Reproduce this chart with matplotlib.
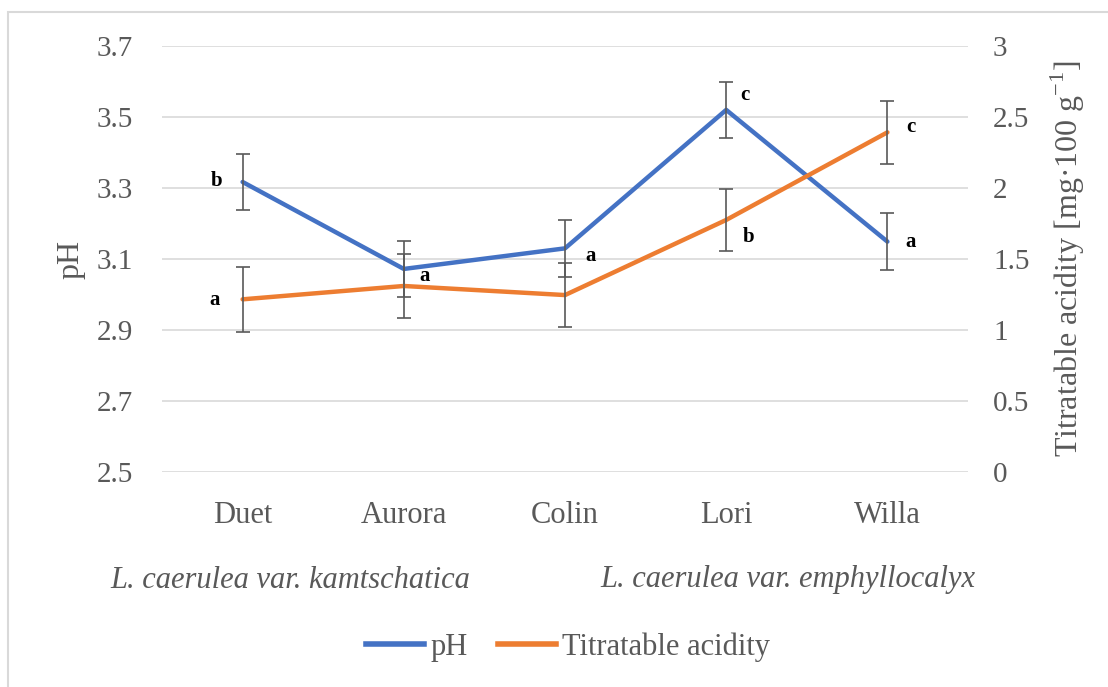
import matplotlib
matplotlib.use('Agg')
import matplotlib.pyplot as plt
from matplotlib.patches import Rectangle
from matplotlib.lines import Line2D

plt.rcParams['font.family'] = ['Liberation Serif', 'DejaVu Serif']
plt.rcParams['mathtext.fontset'] = 'custom'
plt.rcParams['mathtext.rm'] = 'Liberation Serif'

# データ
cultivars = ['Duet', 'Aurora', 'Colin', 'Lori', 'Willa']
ph = [3.317, 3.072, 3.130, 3.520, 3.149]
ph_err = [0.08, 0.08, 0.08, 0.08, 0.08]
ta = [1.216, 1.310, 1.246, 1.775, 2.392]
ta_err = [0.227, 0.227, 0.225, 0.22, 0.223]
ph_letters = ['b', 'a', 'a', 'c', 'a']
ta_letters = ['a', '', '', 'b', 'c']
groups = ['L. caerulea var. kamtschatica', 'L. caerulea var. emphyllocalyx']

ph_ticks = [2.5, 2.7, 2.9, 3.1, 3.3, 3.5, 3.7]
ta_ticks = [0, 0.5, 1, 1.5, 2, 2.5, 3]

BLUE = '#4472C4'
ORANGE = '#ED7D31'
GREY = '#595959'
GRID = '#d9d9d9'

fig = plt.figure(figsize=(11.08, 6.87), dpi=100)
ax1 = fig.add_axes([162 / 1108, 1 - 472 / 687, 806 / 1108, 426 / 687])
ax2 = ax1.twinx()

x = list(range(len(cultivars)))

# 線
ax1.plot(x, ph, color=BLUE, lw=3.2, solid_capstyle='round', zorder=3)
ax2.plot(x, ta, color=ORANGE, lw=3.2, solid_capstyle='round', zorder=3)

# 誤差棒
ax1.errorbar(x, ph, yerr=ph_err, fmt='none', ecolor=GREY, elinewidth=1.2,
             capsize=5, capthick=1.2, zorder=4)
ax2.errorbar(x, ta, yerr=ta_err, fmt='none', ecolor=GREY, elinewidth=1.2,
             capsize=5, capthick=1.2, zorder=4)

# 有意差の文字（ピクセル単位のオフセット）
ph_off = [(-26, 1), (21, -7), (26, -8), (19, 15), (23, 0)]
ta_off = [(-28, -1), (0, 0), (0, 0), (22, -17), (23, 5)]
for i in x:
    if ph_letters[i]:
        ax1.annotate(ph_letters[i], (i, ph[i]), xytext=ph_off[i], textcoords='offset pixels',
                     ha='center', va='center', fontsize=15, fontweight='bold', color='black', zorder=5)
    if ta_letters[i]:
        ax2.annotate(ta_letters[i], (i, ta[i]), xytext=ta_off[i], textcoords='offset pixels',
                     ha='center', va='center', fontsize=15, fontweight='bold', color='black', zorder=5)

ax1.set_xlim(-0.5, 4.5)
ax1.set_ylim(2.5, 3.7)
ax2.set_ylim(0, 3)
ax1.set_yticks(ph_ticks)
ax1.set_yticklabels([f'{v:g}' for v in ph_ticks])
ax2.set_yticks(ta_ticks)
ax2.set_yticklabels([f'{v:g}' for v in ta_ticks])
ax1.set_xticks(x)
ax1.set_xticklabels(cultivars)

ax1.grid(axis='y', color=GRID, lw=1.2)
ax1.set_axisbelow(True)
for ax in (ax1, ax2):
    for s in ax.spines.values():
        s.set_visible(False)
    ax.tick_params(length=0, labelsize=21, colors=GREY)
ax1.tick_params(axis='x', labelsize=22, pad=21)
ax1.tick_params(axis='y', pad=21)
ax2.tick_params(axis='y', pad=18)

ax1.set_ylabel('pH', fontsize=23, color=GREY, labelpad=8)
ax2.set_ylabel('Titratable acidity [mg·100 g$^{-1}$]', fontsize=23, color=GREY, labelpad=14)

# 品種グループ
fig.text(290 / 1108, 1 - 580 / 687, groups[0], fontsize=22, style='italic', color=GREY,
         ha='center', va='center')
fig.text(788 / 1108, 1 - 580 / 687, groups[1], fontsize=22, style='italic', color=GREY,
         ha='center', va='center')

# 凡例
handles = [Line2D([], [], color=BLUE, lw=4), Line2D([], [], color=ORANGE, lw=4)]
fig.legend(handles, ['pH', 'Titratable acidity'], loc='center', bbox_to_anchor=(568 / 1108, 1 - 647 / 687),
           ncol=2, frameon=False, fontsize=22, labelcolor=GREY, handlelength=1.9,
           handletextpad=0.2, columnspacing=1.0)

# 外枠
fig.patches.append(Rectangle((8 / 1108, -0.05), 1.1, 1.05 - 12 / 687, transform=fig.transFigure,
                             fill=False, edgecolor=GRID, lw=1.5))

fig.savefig('out.png', dpi=100)
